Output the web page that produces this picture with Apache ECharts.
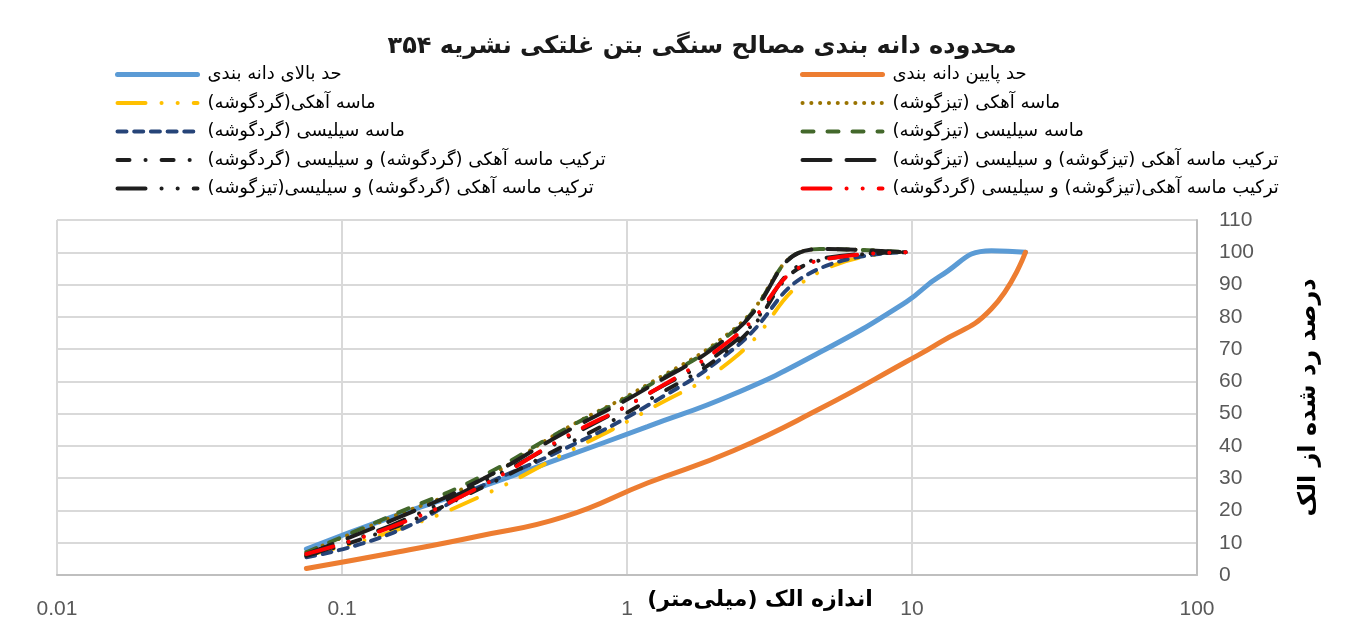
<!DOCTYPE html>
<html>
<head>
<meta charset="utf-8">
<script src="https://cdn.jsdelivr.net/npm/echarts@6/dist/echarts.min.js"></script>
<style>
html, body { margin: 0; padding: 0; background: #fff; }
#chart { width: 1355px; height: 624px; }
</style>
</head>
<body>
<div id="chart" dir="rtl"></div>
<script>
// sieve sizes (mm)
var sieves = [0.075, 0.15, 0.3, 0.6, 1.18, 2.36, 4.75, 9.5];
var limitSieves = [0.075, 0.15, 0.3, 0.6, 1.18, 2.36, 4.75, 9.5, 12.5, 19, 25];

// passing percent
var upperLimit = [8, 18, 27, 36.5, 46, 56, 69, 84.5, 92.5, 100.5, 100];
var lowerLimit = [2, 6.8, 12, 18, 28.5, 38.5, 51.5, 66, 72, 82.5, 100];
var limeRound = [6, 13.5, 24, 37.5, 51, 67, 94, 100];
var limeSharp = [7, 18, 29, 45, 59, 76, 101, 100];
var silicaRound = [5.5, 13, 27, 39, 52.5, 70, 95, 100];
var silicaSharp = [7, 18.5, 30, 45, 58.5, 75.5, 101, 100];
var mixRoundRound = [6, 14.5, 26.5, 40, 54, 71, 97.5, 100];
var mixSharpSharp = [6.5, 17, 29, 44, 58, 75, 101, 100];
var mixRoundSharp = [6, 15.5, 28, 42, 56, 72, 98, 100];
var mixSharpRound = [6.5, 15, 27, 42.5, 56, 73.5, 97.5, 100];

var names = [
    "حد بالای دانه بندی",
    "حد پایین دانه بندی",
    "ماسه آهکی(گردگوشه)",
    "ماسه آهکی (تیزگوشه)",
    "ماسه سیلیسی (گردگوشه)",
    "ماسه سیلیسی (تیزگوشه)",
    "ترکیب ماسه آهکی (گردگوشه) و سیلیسی (گردگوشه)",
    "ترکیب ماسه آهکی (تیزگوشه) و سیلیسی (تیزگوشه)",
    "ترکیب ماسه آهکی (گردگوشه) و سیلیسی(تیزگوشه)",
    "ترکیب ماسه آهکی(تیزگوشه) و سیلیسی (گردگوشه)"
];

var faFont = "DejaVu Sans";
var numFont = "Liberation Sans";

function mkLine(name, xs, ys, color, width, dash) {
    return {
        name: name,
        type: "line",
        data: xs.map(function (x, i) { return [x, ys[i]]; }),
        smooth: 0.5,
        symbol: "none",
        showSymbol: false,
        lineStyle: { color: color, width: width, type: dash, cap: "round" },
        itemStyle: { color: color },
        emphasis: { disabled: true }
    };
}

function mkLegend(items, left) {
    return {
        data: items,
        orient: "vertical",
        left: left,
        top: 65,
        padding: 0,
        itemWidth: 80,
        itemHeight: 14,
        itemGap: 9.5,
        itemStyle: { opacity: 0 },
        lineStyle: { width: "inherit" },
        textStyle: { fontFamily: faFont, fontSize: 18, color: "#000", lineHeight: 19, padding: [0, 0, 0, 5] }
    };
}

var lgDashDotDot = [28, 16, 0.1, 16, 0.1, 16];

var chart = echarts.init(document.getElementById("chart"));
chart.setOption({
    animation: false,
    backgroundColor: "#fff",
    title: {
        text: "محدوده دانه بندی مصالح سنگی بتن غلتکی نشریه ۳۵۴",
        left: 697,
        top: 30,
        textAlign: "center",
        textStyle: { fontFamily: faFont, fontSize: 24, fontWeight: "bold", color: "#1a1a1a" }
    },
    legend: [
        mkLegend([names[0], names[2], names[4], names[6], names[8]], 115),
        mkLegend([names[1], names[3], names[5], names[7], names[9]], 800)
    ],
    grid: { left: 57, right: 158, top: 220, bottom: 49, outerBoundsMode: "none" },
    xAxis: {
        type: "log",
        logBase: 10,
        min: 0.01,
        max: 100,
        name: "اندازه الک (میلی‌متر)",
        nameLocation: "middle",
        nameGap: 14,
        nameMoveOverlap: false,
        nameTextStyle: { fontFamily: faFont, fontSize: 22, fontWeight: "bold", color: "#000", padding: [0, 0, 0, 266] },
        axisLine: { lineStyle: { color: "#bfbfbf", width: 2 } },
        axisTick: { show: false },
        splitLine: { show: true, lineStyle: { color: "#d9d9d9", width: 2 } },
        axisLabel: { margin: 24, fontFamily: numFont, fontSize: 21, color: "#595959" }
    },
    yAxis: {
        type: "value",
        position: "right",
        min: 0,
        max: 110,
        interval: 10,
        name: "درصد رد شده از الک",
        nameLocation: "middle",
        nameRotate: 90,
        nameGap: 100,
        nameMoveOverlap: false,
        nameTextStyle: { fontFamily: faFont, fontSize: 24, fontWeight: "bold", color: "#000" },
        axisLine: { show: true, lineStyle: { color: "#bfbfbf", width: 2 } },
        axisTick: { show: false },
        splitLine: { show: true, lineStyle: { color: "#d9d9d9", width: 2 } },
        axisLabel: { margin: 22, fontFamily: numFont, fontSize: 21, color: "#595959" }
    },
    series: [
        mkLine(names[0], limitSieves, upperLimit, "#5B9BD5", 5, "solid"),
        mkLine(names[1], limitSieves, lowerLimit, "#ED7D31", 5, "solid"),
        mkLine(names[2], sieves, limeRound, "#FFC000", 4, lgDashDotDot),
        mkLine(names[3], sieves, limeSharp, "#997300", 4, [0.1, 8.7]),
        mkLine(names[4], sieves, silicaRound, "#264478", 4, [9, 7.7]),
        mkLine(names[5], sieves, silicaSharp, "#43682B", 4, [11, 14]),
        mkLine(names[6], sieves, mixRoundRound, "#1e1e1e", 4, [12, 16, 0.1, 16]),
        mkLine(names[7], sieves, mixSharpSharp, "#1e1e1e", 4, [28, 16]),
        mkLine(names[8], sieves, mixRoundSharp, "#1e1e1e", 4, lgDashDotDot),
        mkLine(names[9], sieves, mixSharpRound, "#FF0000", 4, lgDashDotDot)
    ]
});
</script>
</body>
</html>
